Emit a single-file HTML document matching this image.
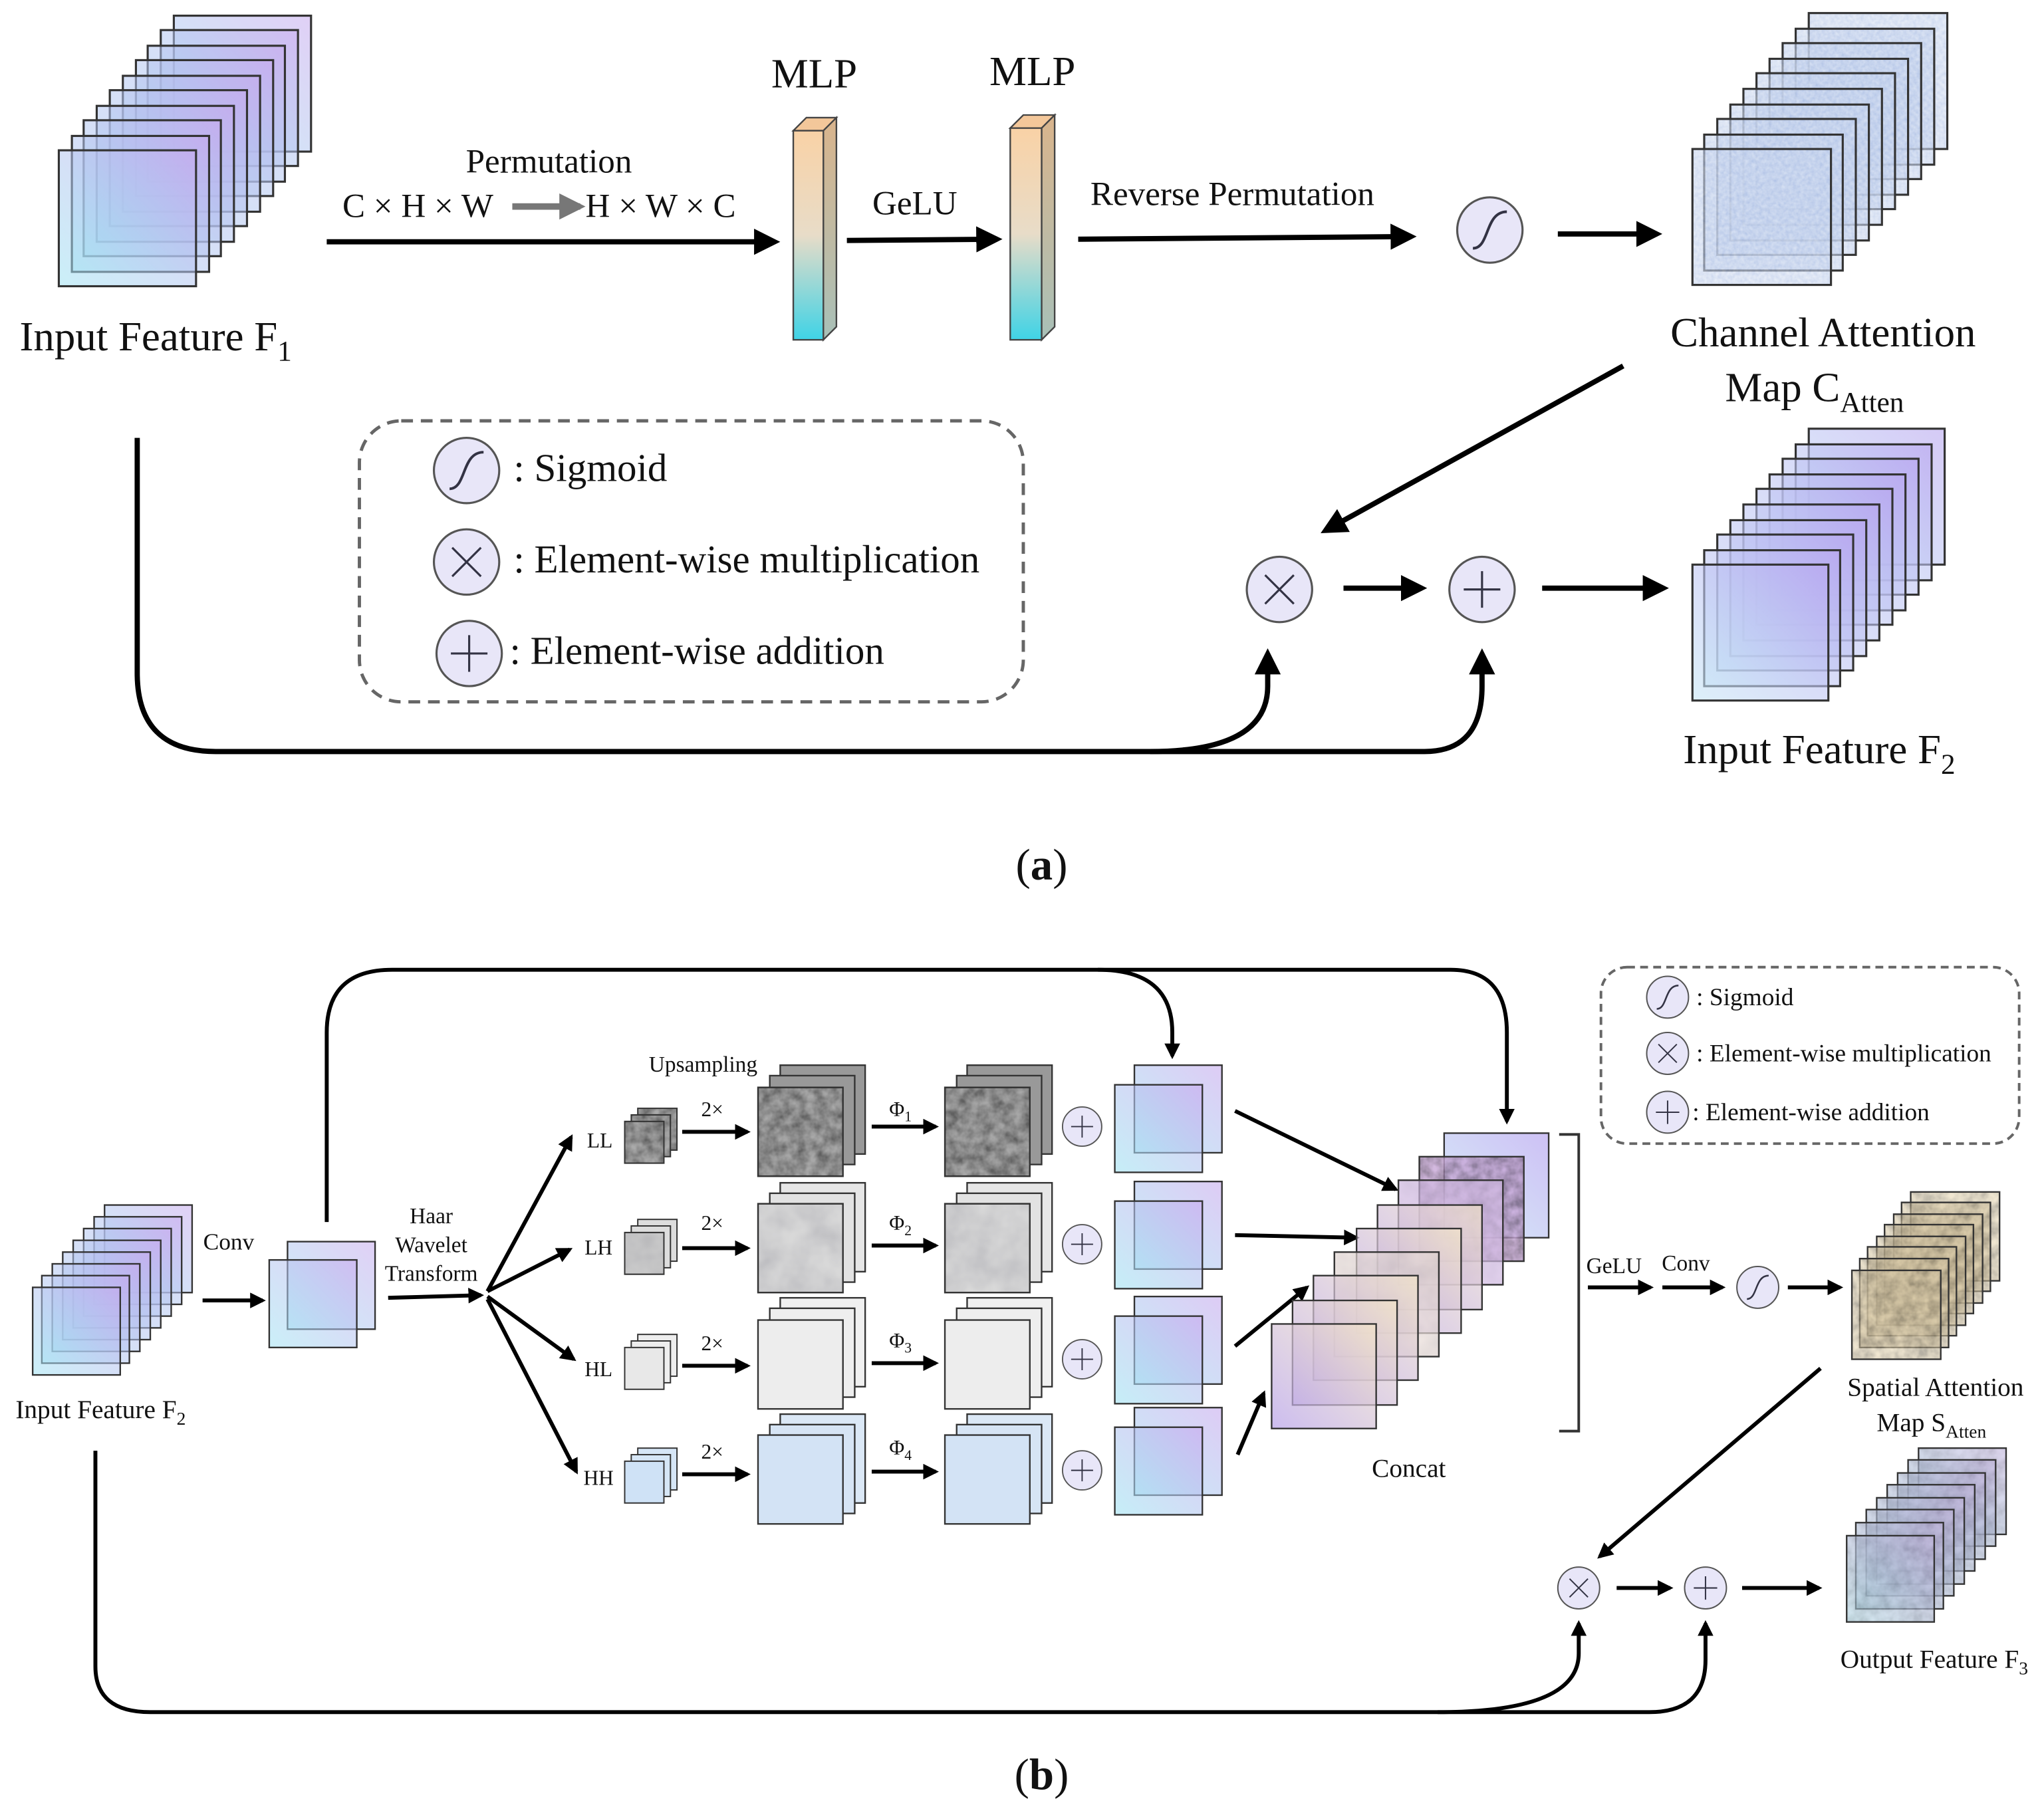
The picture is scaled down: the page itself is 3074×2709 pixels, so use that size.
<!DOCTYPE html>
<html><head><meta charset="utf-8"><style>html,body{margin:0;padding:0;background:#fff}svg{display:block}text{font-family:"Liberation Serif",serif;fill:#111}</style></head>
<body>
<svg width="3074" height="2709" viewBox="0 0 1564 1378" preserveAspectRatio="none" xmlns="http://www.w3.org/2000/svg">
<defs>
<linearGradient id="gA" x1="0" y1="1" x2="1" y2="0"><stop offset="0" stop-color="#9fe3f2"/><stop offset="1" stop-color="#c7a9ee"/></linearGradient>
<linearGradient id="gB" x1="0" y1="1" x2="1" y2="0"><stop offset="0" stop-color="#c6e6f6"/><stop offset="1" stop-color="#b8a6f0"/></linearGradient>
<linearGradient id="gC" x1="0" y1="1" x2="1" y2="0"><stop offset="0" stop-color="#b6a0e8"/><stop offset="1" stop-color="#f4e6c8"/></linearGradient>
<linearGradient id="gMLP" x1="0" y1="0" x2="0" y2="1"><stop offset="0" stop-color="#f9d2a6"/><stop offset="0.5" stop-color="#e8dcc8"/><stop offset="1" stop-color="#3fd3e6"/></linearGradient>
<linearGradient id="gMLPs" x1="0" y1="0" x2="0" y2="1"><stop offset="0" stop-color="#d9b48c"/><stop offset="1" stop-color="#a8c0b8"/></linearGradient>
<filter id="nB" x="0" y="0" width="100%" height="100%"><feTurbulence type="fractalNoise" baseFrequency="0.35" numOctaves="2" seed="3"/><feColorMatrix type="matrix" values="0 0 0 0 0.55  0 0 0 0 0.65  0 0 0 0 0.85  0 0 0 1.2 -0.2"/><feComposite in2="SourceGraphic" operator="in"/><feBlend in2="SourceGraphic" mode="multiply"/></filter>
<filter id="nG" x="0" y="0" width="100%" height="100%"><feTurbulence type="fractalNoise" baseFrequency="0.12" numOctaves="3" seed="7"/><feColorMatrix type="matrix" values="0 0 0 0 0.3  0 0 0 0 0.3  0 0 0 0 0.3  0 0 0 1.6 -0.3"/><feComposite in2="SourceGraphic" operator="in"/><feBlend in2="SourceGraphic" mode="multiply"/></filter>
<filter id="nL" x="0" y="0" width="100%" height="100%"><feTurbulence type="fractalNoise" baseFrequency="0.05" numOctaves="3" seed="11"/><feColorMatrix type="matrix" values="0 0 0 0 0.6  0 0 0 0 0.6  0 0 0 0 0.65  0 0 0 0.9 -0.2"/><feComposite in2="SourceGraphic" operator="in"/><feBlend in2="SourceGraphic" mode="multiply"/></filter>
<marker id="ar" viewBox="0 0 10 10" refX="8" refY="5" markerWidth="5" markerHeight="5" orient="auto-start-reverse" markerUnits="strokeWidth"><path d="M0,0 L10,5 L0,10 z" fill="#000"/></marker>
<marker id="ar2" viewBox="0 0 10 10" refX="8" refY="5" markerWidth="4" markerHeight="4" orient="auto" markerUnits="strokeWidth"><path d="M0,0 L10,5 L0,10 z" fill="#000"/></marker>
<marker id="arg" viewBox="0 0 10 10" refX="8" refY="5" markerWidth="4" markerHeight="4" orient="auto" markerUnits="strokeWidth"><path d="M0,0 L10,5 L0,10 z" fill="#777"/></marker>
<g id="sq1"><rect width="105" height="104" fill="url(#gA)" fill-opacity="0.55" stroke="#333" stroke-width="1.6"/></g>
<g id="sqN"><rect width="106" height="104" fill="#d8e2f4" opacity="0.6" filter="url(#nB)"/><rect width="106" height="104" fill="none" stroke="#333" stroke-width="1.6"/></g>
<g id="sqF"><rect width="104" height="104" fill="url(#gB)" fill-opacity="0.6" stroke="#333" stroke-width="1.6"/></g>
<g id="s67"><rect width="67" height="67" fill="url(#gA)" fill-opacity="0.55" stroke="#333" stroke-width="1.2"/></g>
<g id="sG"><rect width="68" height="68" fill="#e8d8b4" opacity="0.6" filter="url(#nG)"/><rect width="68" height="68" fill="none" stroke="#333" stroke-width="1.2"/></g>
<g id="sO"><rect width="67" height="66" fill="#c8ccd6" opacity="0.5" filter="url(#nG)"/><rect width="67" height="66" fill="url(#gA)" fill-opacity="0.3" stroke="#333" stroke-width="1.2"/></g>
<g id="sig"><circle r="25" fill="#e8e6f8" stroke="#555" stroke-width="1.6"/><path d="M-13,14 C0,14 -4,-14 13,-14" fill="none" stroke="#334" stroke-width="2"/></g>
<g id="mul"><circle r="25" fill="#e8e6f8" stroke="#555" stroke-width="1.6"/><path d="M-11,-11 L11,11 M11,-11 L-11,11" stroke="#334" stroke-width="1.6"/></g>
<g id="add"><circle r="25" fill="#e8e6f8" stroke="#555" stroke-width="1.6"/><path d="M-14,0 L14,0 M0,-14 L0,14" stroke="#334" stroke-width="1.6"/></g>
</defs>

<g>
<use href="#sq1" x="133" y="12"/><use href="#sq1" x="123" y="23"/><use href="#sq1" x="113" y="35"/><use href="#sq1" x="104" y="46"/><use href="#sq1" x="94" y="58"/><use href="#sq1" x="84" y="69"/><use href="#sq1" x="74" y="81"/><use href="#sq1" x="64" y="92"/><use href="#sq1" x="55" y="104"/><use href="#sq1" x="45" y="115"/>
</g>
<text x="15" y="268" font-size="32">Input Feature F<tspan font-size="22" dy="8">1</tspan></text>

<line x1="250" y1="185" x2="593" y2="185" stroke="#000" stroke-width="4" marker-end="url(#ar)"/>
<text x="420" y="132" font-size="26" text-anchor="middle">Permutation</text>
<text x="262" y="166" font-size="26">C × H × W</text>
<line x1="392" y1="158" x2="444" y2="158" stroke="#777" stroke-width="5" marker-end="url(#arg)"/>
<text x="448" y="166" font-size="26">H × W × C</text>

<text x="623" y="67" font-size="32" text-anchor="middle">MLP</text>
<polygon points="607,100 617,90 640,90 630,100" fill="#f3c79a" stroke="#444" stroke-width="1.2"/>
<polygon points="630,100 640,90 640,250 630,260" fill="url(#gMLPs)" stroke="#444" stroke-width="1.2"/>
<rect x="607" y="100" width="23" height="160" fill="url(#gMLP)" stroke="#444" stroke-width="1.2"/>

<line x1="648" y1="184" x2="763" y2="183" stroke="#000" stroke-width="4" marker-end="url(#ar)"/>
<text x="700" y="164" font-size="26" text-anchor="middle">GeLU</text>

<text x="790" y="65" font-size="32" text-anchor="middle">MLP</text>
<polygon points="773,98 783,88 807,88 797,98" fill="#f3c79a" stroke="#444" stroke-width="1.2"/>
<polygon points="797,98 807,88 807,250 797,260" fill="url(#gMLPs)" stroke="#444" stroke-width="1.2"/>
<rect x="773" y="98" width="24" height="162" fill="url(#gMLP)" stroke="#444" stroke-width="1.2"/>

<line x1="825" y1="183" x2="1080" y2="181" stroke="#000" stroke-width="4" marker-end="url(#ar)"/>
<text x="943" y="157" font-size="26" text-anchor="middle">Reverse Permutation</text>
<use href="#sig" x="1140" y="176"/>
<line x1="1192" y1="179" x2="1268" y2="179" stroke="#000" stroke-width="4" marker-end="url(#ar)"/>

<g>
<use href="#sqN" x="1384" y="10"/><use href="#sqN" x="1374" y="22"/><use href="#sqN" x="1364" y="33"/><use href="#sqN" x="1354" y="45"/><use href="#sqN" x="1344" y="56"/><use href="#sqN" x="1334" y="68"/><use href="#sqN" x="1324" y="80"/><use href="#sqN" x="1314" y="91"/><use href="#sqN" x="1304" y="103"/><use href="#sqN" x="1295" y="114"/>
</g>
<text x="1395" y="265" font-size="32" text-anchor="middle">Channel Attention</text>
<text x="1320" y="307" font-size="32">Map C<tspan font-size="22" dy="8">Atten</tspan></text>

<line x1="1242" y1="280" x2="1014" y2="406" stroke="#000" stroke-width="4" marker-end="url(#ar)"/>
<use href="#mul" x="979" y="451"/>
<line x1="1028" y1="450" x2="1088" y2="450" stroke="#000" stroke-width="4" marker-end="url(#ar)"/>
<use href="#add" x="1134" y="451"/>
<line x1="1180" y1="450" x2="1273" y2="450" stroke="#000" stroke-width="4" marker-end="url(#ar)"/>

<g>
<use href="#sqF" x="1384" y="328"/><use href="#sqF" x="1374" y="340"/><use href="#sqF" x="1364" y="351"/><use href="#sqF" x="1354" y="363"/><use href="#sqF" x="1344" y="374"/><use href="#sqF" x="1334" y="386"/><use href="#sqF" x="1324" y="398"/><use href="#sqF" x="1314" y="409"/><use href="#sqF" x="1304" y="421"/><use href="#sqF" x="1295" y="432"/>
</g>
<text x="1392" y="584" font-size="32" text-anchor="middle">Input Feature F<tspan font-size="22" dy="8">2</tspan></text>

<rect x="275" y="322" width="508" height="215" rx="32" fill="none" stroke="#666" stroke-width="2.5" stroke-dasharray="9,6"/>
<use href="#sig" x="357" y="360"/><text x="393" y="368" font-size="30">: Sigmoid</text>
<use href="#mul" x="357" y="430"/><text x="393" y="438" font-size="30">: Element-wise multiplication</text>
<use href="#add" x="359" y="500"/><text x="390" y="508" font-size="30">: Element-wise addition</text>

<path d="M105,335 L105,515 Q105,575 165,575 L1090,575 Q1134,575 1134,525 L1134,500" fill="none" stroke="#000" stroke-width="4" marker-end="url(#ar)"/>
<path d="M880,575 Q970,575 970,525 L970,500" fill="none" stroke="#000" stroke-width="4" marker-end="url(#ar)"/>

<text x="797" y="673" font-size="34" text-anchor="middle">(<tspan font-weight="bold">a</tspan>)</text>

<path d="M250,935 L250,790 Q250,742 300,742 L1110,742 Q1153,742 1153,790 L1153,858" fill="none" stroke="#000" stroke-width="3" marker-end="url(#ar2)"/>
<path d="M840,742 Q897,742 897,790 L897,808" fill="none" stroke="#000" stroke-width="3" marker-end="url(#ar2)"/>

<g>
<use href="#s67" x="80" y="922"/><use href="#s67" x="72" y="931"/><use href="#s67" x="64" y="940"/><use href="#s67" x="56" y="949"/><use href="#s67" x="48" y="958"/><use href="#s67" x="40" y="967"/><use href="#s67" x="32" y="976"/><use href="#s67" x="25" y="985"/>
</g>
<text x="77" y="1085" font-size="20" text-anchor="middle">Input Feature F<tspan font-size="14" dy="5">2</tspan></text>
<text x="175" y="956" font-size="18" text-anchor="middle">Conv</text>
<line x1="155" y1="995" x2="201" y2="995" stroke="#000" stroke-width="3" marker-end="url(#ar2)"/>
<use href="#s67" x="220" y="950"/><use href="#s67" x="206" y="964"/>
<line x1="297" y1="993" x2="368" y2="991" stroke="#000" stroke-width="3" marker-end="url(#ar2)"/>
<text x="330" y="936" font-size="17" text-anchor="middle">Haar</text>
<text x="330" y="958" font-size="17" text-anchor="middle">Wavelet</text>
<text x="330" y="980" font-size="17" text-anchor="middle">Transform</text>
<g stroke="#000" stroke-width="3" marker-end="url(#ar2)">
<line x1="373" y1="988" x2="437" y2="870"/><line x1="373" y1="988" x2="436" y2="956"/>
<line x1="373" y1="992" x2="439" y2="1040"/><line x1="373" y1="994" x2="441" y2="1126"/>
</g>
<text x="538" y="820" font-size="17" text-anchor="middle">Upsampling</text>

<g>
<text x="459" y="878" font-size="16" text-anchor="middle">LL</text>
<rect x="488" y="848" width="30" height="32" fill="#aaa" stroke="#333" filter="url(#nG)"/><rect x="488" y="848" width="30" height="32" fill="none" stroke="#333"/>
<rect x="483" y="853" width="30" height="32" fill="#aaa" stroke="#333" filter="url(#nG)"/><rect x="483" y="853" width="30" height="32" fill="none" stroke="#333"/>
<rect x="478" y="858" width="30" height="32" fill="#aaa" stroke="#333" filter="url(#nG)"/><rect x="478" y="858" width="30" height="32" fill="none" stroke="#333"/>
</g>

<g font-size="16" text-anchor="middle">
<text x="458" y="960">LH</text><text x="458" y="1053">HL</text><text x="458" y="1136">HH</text>
<text x="545" y="854">2×</text><text x="545" y="941">2×</text><text x="545" y="1033">2×</text><text x="545" y="1116">2×</text>
<text x="689" y="854">Φ<tspan font-size="11" dy="4">1</tspan></text>
<text x="689" y="941">Φ<tspan font-size="11" dy="4">2</tspan></text>
<text x="689" y="1031">Φ<tspan font-size="11" dy="4">3</tspan></text>
<text x="689" y="1113">Φ<tspan font-size="11" dy="4">4</tspan></text>
</g>

<g stroke="#333">
<rect x="488" y="933" width="30" height="32" fill="#ddd"/><rect x="483" y="938" width="30" height="32" fill="#ddd"/><rect x="478" y="943" width="30" height="32" fill="#ccc" filter="url(#nL)"/><rect x="478" y="943" width="30" height="32" fill="none"/>
<rect x="488" y="1021" width="30" height="32" fill="#eee"/><rect x="483" y="1026" width="30" height="32" fill="#eee"/><rect x="478" y="1031" width="30" height="32" fill="#e8e8e8"/>
<rect x="488" y="1108" width="30" height="32" fill="#d6e6f6"/><rect x="483" y="1113" width="30" height="32" fill="#d6e6f6"/><rect x="478" y="1118" width="30" height="32" fill="#cfe2f6"/>
</g>

<g stroke="#000" stroke-width="3" marker-end="url(#ar2)">
<line x1="522" y1="866" x2="572" y2="866"/><line x1="522" y1="955" x2="572" y2="955"/><line x1="522" y1="1045" x2="572" y2="1045"/><line x1="522" y1="1128" x2="572" y2="1128"/>
<line x1="667" y1="862" x2="716" y2="862"/><line x1="667" y1="953" x2="716" y2="953"/><line x1="667" y1="1043" x2="716" y2="1043"/><line x1="667" y1="1126" x2="716" y2="1126"/>
</g>

<g stroke="#333" stroke-width="1.2">
<rect x="597" y="815" width="65" height="68" fill="#999"/><rect x="589" y="823" width="65" height="68" fill="#999"/>
<rect x="580" y="832" width="65" height="68" fill="#a8a8a8" filter="url(#nG)"/><rect x="580" y="832" width="65" height="68" fill="none"/>
<rect x="740" y="815" width="65" height="68" fill="#999"/><rect x="732" y="823" width="65" height="68" fill="#999"/>
<rect x="723" y="832" width="65" height="68" fill="#a8a8a8" filter="url(#nG)"/><rect x="723" y="832" width="65" height="68" fill="none"/>

<rect x="597" y="905" width="65" height="68" fill="#e6e6e6"/><rect x="589" y="913" width="65" height="68" fill="#e2e2e2"/>
<rect x="580" y="921" width="65" height="68" fill="#d8d8d8" filter="url(#nL)"/><rect x="580" y="921" width="65" height="68" fill="none"/>
<rect x="740" y="905" width="65" height="68" fill="#e6e6e6"/><rect x="732" y="913" width="65" height="68" fill="#e2e2e2"/>
<rect x="723" y="921" width="65" height="68" fill="#d8d8d8" filter="url(#nL)"/><rect x="723" y="921" width="65" height="68" fill="none"/>

<rect x="597" y="993" width="65" height="68" fill="#f0f0f0"/><rect x="589" y="1001" width="65" height="68" fill="#eee"/>
<rect x="580" y="1010" width="65" height="68" fill="#ededed"/>
<rect x="740" y="993" width="65" height="68" fill="#f0f0f0"/><rect x="732" y="1001" width="65" height="68" fill="#eee"/>
<rect x="723" y="1010" width="65" height="68" fill="#ededed"/>

<rect x="597" y="1082" width="65" height="68" fill="#dbe8f6"/><rect x="589" y="1090" width="65" height="68" fill="#d6e4f4"/>
<rect x="580" y="1098" width="65" height="68" fill="#d3e3f5"/>
<rect x="740" y="1082" width="65" height="68" fill="#dbe8f6"/><rect x="732" y="1090" width="65" height="68" fill="#d6e4f4"/>
<rect x="723" y="1098" width="65" height="68" fill="#d3e3f5"/>
</g>

<g transform="translate(828,862) scale(0.6)"><use href="#add"/></g>
<g transform="translate(828,952) scale(0.6)"><use href="#add"/></g>
<g transform="translate(828,1040) scale(0.6)"><use href="#add"/></g>
<g transform="translate(828,1125) scale(0.6)"><use href="#add"/></g>

<g>
<rect x="868" y="815" width="67" height="67" fill="url(#gA)" fill-opacity="0.6" stroke="#333" stroke-width="1.2"/><rect x="853" y="830" width="67" height="67" fill="url(#gA)" fill-opacity="0.6" stroke="#333" stroke-width="1.2"/>
<rect x="868" y="904" width="67" height="67" fill="url(#gA)" fill-opacity="0.6" stroke="#333" stroke-width="1.2"/><rect x="853" y="919" width="67" height="67" fill="url(#gA)" fill-opacity="0.6" stroke="#333" stroke-width="1.2"/>
<rect x="868" y="992" width="67" height="67" fill="url(#gA)" fill-opacity="0.6" stroke="#333" stroke-width="1.2"/><rect x="853" y="1007" width="67" height="67" fill="url(#gA)" fill-opacity="0.6" stroke="#333" stroke-width="1.2"/>
<rect x="868" y="1077" width="67" height="67" fill="url(#gA)" fill-opacity="0.6" stroke="#333" stroke-width="1.2"/><rect x="853" y="1092" width="67" height="67" fill="url(#gA)" fill-opacity="0.6" stroke="#333" stroke-width="1.2"/>
</g>

<g stroke="#000" stroke-width="3" marker-end="url(#ar2)">
<line x1="945" y1="850" x2="1068" y2="910"/><line x1="945" y1="945" x2="1038" y2="947"/>
<line x1="945" y1="1030" x2="1000" y2="985"/><line x1="947" y1="1113" x2="967" y2="1066"/>
</g>

<g stroke="#333" stroke-width="1.2">
<rect x="1105" y="867" width="80" height="80" fill="url(#gB)" fill-opacity="0.7"/>
<rect x="1086" y="885" width="80" height="80" fill="#c9a8d8" opacity="0.8" filter="url(#nG)"/><rect x="1086" y="885" width="80" height="80" fill="none"/>
<rect x="1070" y="903" width="80" height="80" fill="#d8c0e8" opacity="0.7" filter="url(#nL)"/><rect x="1070" y="903" width="80" height="80" fill="none"/>
<rect x="1054" y="922" width="80" height="80" fill="url(#gC)" fill-opacity="0.7"/>
<rect x="1038" y="940" width="80" height="80" fill="url(#gC)" fill-opacity="0.7"/>
<rect x="1021" y="958" width="80" height="80" fill="#e8dcd8" opacity="0.7" filter="url(#nL)"/><rect x="1021" y="958" width="80" height="80" fill="none"/>
<rect x="1005" y="976" width="80" height="80" fill="url(#gC)" fill-opacity="0.7"/>
<rect x="989" y="995" width="80" height="80" fill="url(#gC)" fill-opacity="0.7"/>
<rect x="973" y="1013" width="80" height="80" fill="url(#gC)" fill-opacity="0.7"/>
</g>
<text x="1078" y="1130" font-size="20" text-anchor="middle">Concat</text>
<path d="M1193,868 L1208,868 L1208,1095 L1193,1095" fill="none" stroke="#333" stroke-width="2"/>

<text x="1235" y="974" font-size="17" text-anchor="middle">GeLU</text>
<line x1="1215" y1="985" x2="1263" y2="985" stroke="#000" stroke-width="3" marker-end="url(#ar2)"/>
<text x="1290" y="972" font-size="17" text-anchor="middle">Conv</text>
<line x1="1272" y1="985" x2="1318" y2="985" stroke="#000" stroke-width="3" marker-end="url(#ar2)"/>
<g transform="translate(1345,985) scale(0.64)"><use href="#sig"/></g>
<line x1="1368" y1="985" x2="1408" y2="985" stroke="#000" stroke-width="3" marker-end="url(#ar2)"/>

<g>
<use href="#sG" x="1462" y="912"/><use href="#sG" x="1455" y="920"/><use href="#sG" x="1449" y="929"/><use href="#sG" x="1442" y="937"/><use href="#sG" x="1436" y="946"/><use href="#sG" x="1429" y="954"/><use href="#sG" x="1423" y="963"/><use href="#sG" x="1417" y="972"/>
</g>
<text x="1481" y="1068" font-size="20" text-anchor="middle">Spatial Attention</text>
<text x="1436" y="1095" font-size="20">Map S<tspan font-size="14" dy="5">Atten</tspan></text>

<line x1="1393" y1="1047" x2="1224" y2="1191" stroke="#000" stroke-width="3" marker-end="url(#ar2)"/>
<g transform="translate(1208,1215) scale(0.64)"><use href="#mul"/></g>
<line x1="1237" y1="1215" x2="1278" y2="1215" stroke="#000" stroke-width="3" marker-end="url(#ar2)"/>
<g transform="translate(1305,1215) scale(0.64)"><use href="#add"/></g>
<line x1="1333" y1="1215" x2="1392" y2="1215" stroke="#000" stroke-width="3" marker-end="url(#ar2)"/>

<g>
<use href="#sO" x="1468" y="1108"/><use href="#sO" x="1460" y="1117"/><use href="#sO" x="1452" y="1127"/><use href="#sO" x="1444" y="1136"/><use href="#sO" x="1436" y="1146"/><use href="#sO" x="1428" y="1155"/><use href="#sO" x="1420" y="1165"/><use href="#sO" x="1413" y="1175"/>
</g>
<text x="1480" y="1276" font-size="20" text-anchor="middle">Output Feature F<tspan font-size="14" dy="5">3</tspan></text>

<path d="M73,1110 L73,1275 Q73,1310 115,1310 L1262,1310 Q1305,1310 1305,1270 L1305,1242" fill="none" stroke="#000" stroke-width="3" marker-end="url(#ar2)"/>
<path d="M1100,1310 Q1208,1310 1208,1265 L1208,1242" fill="none" stroke="#000" stroke-width="3" marker-end="url(#ar2)"/>

<rect x="1225" y="740" width="320" height="135" rx="20" fill="none" stroke="#666" stroke-width="2" stroke-dasharray="6,4"/>
<g transform="translate(1276,763) scale(0.64)"><use href="#sig"/></g><text x="1298" y="769" font-size="19">: Sigmoid</text>
<g transform="translate(1276,806) scale(0.64)"><use href="#mul"/></g><text x="1298" y="812" font-size="19">: Element-wise multiplication</text>
<g transform="translate(1276,851) scale(0.64)"><use href="#add"/></g><text x="1295" y="857" font-size="19">: Element-wise addition</text>

<text x="797" y="1369" font-size="34" text-anchor="middle">(<tspan font-weight="bold">b</tspan>)</text>
</svg>
</body></html>
